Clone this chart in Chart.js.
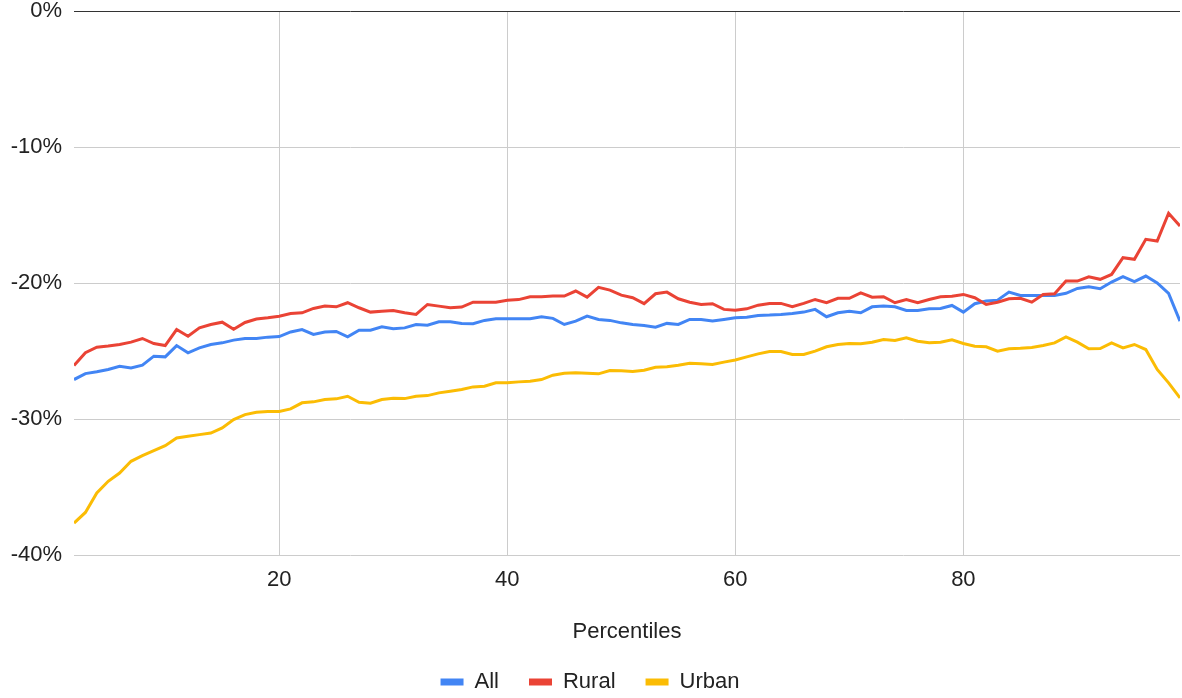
<!DOCTYPE html>
<html>
<head>
<meta charset="utf-8">
<script src="https://cdn.jsdelivr.net/npm/chart.js@4"></script>
<style>
  html, body { margin: 0; padding: 0; background: #fff; overflow: hidden; }
</style>
</head>
<body>
<canvas id="lineChart" width="1182" height="698"></canvas>
<script>
// percentiles 2..99
const percentiles = [];
for (let p = 2; p <= 99; p++) percentiles.push(p);

const xTicks = [20, 40, 60, 80];

const allValues = [
  -27.1, -26.66, -26.53, -26.36, -26.12, -26.24, -26.04, -25.38, -25.43, -24.6,
  -25.13, -24.77, -24.52, -24.4, -24.2, -24.08, -24.08, -23.98, -23.94, -23.6,
  -23.42, -23.78, -23.61, -23.56, -23.96, -23.47, -23.47, -23.22, -23.37, -23.3,
  -23.05, -23.1, -22.85, -22.85, -22.97, -23.0, -22.75, -22.63, -22.63, -22.63,
  -22.63, -22.48, -22.6, -23.05, -22.8, -22.43, -22.68, -22.75, -22.93, -23.05,
  -23.12, -23.25, -22.97, -23.05, -22.68, -22.68, -22.8, -22.68, -22.55, -22.51,
  -22.39, -22.36, -22.31, -22.24, -22.14, -21.94, -22.48, -22.19, -22.07, -22.19,
  -21.75, -21.7, -21.75, -22.02, -22.02, -21.9, -21.88, -21.65, -22.14, -21.52,
  -21.33, -21.26, -20.67, -20.91, -20.91, -20.91, -20.91, -20.76, -20.4, -20.27,
  -20.42, -19.93, -19.54, -19.9, -19.49, -20.0, -20.76, -22.8
];

const ruralValues = [
  -26.07, -25.13, -24.72, -24.64, -24.52, -24.35, -24.08, -24.45, -24.6, -23.42,
  -23.91, -23.3, -23.05, -22.88, -23.4, -22.9, -22.65, -22.56, -22.45, -22.25,
  -22.19, -21.87, -21.7, -21.75, -21.45, -21.82, -22.14, -22.07, -22.02, -22.19,
  -22.31, -21.58, -21.7, -21.82, -21.77, -21.41, -21.41, -21.41, -21.27, -21.22,
  -21.01, -21.01, -20.96, -20.96, -20.59, -21.04, -20.32, -20.52, -20.89, -21.08,
  -21.52, -20.79, -20.67, -21.16, -21.41, -21.58, -21.52, -21.94, -22.0, -21.9,
  -21.63, -21.5, -21.5, -21.75, -21.5, -21.21, -21.45, -21.13, -21.13, -20.72,
  -21.04, -21.01, -21.45, -21.21, -21.45, -21.21, -21.01, -20.98, -20.84, -21.08,
  -21.58, -21.41, -21.16, -21.13, -21.41, -20.84, -20.79, -19.86, -19.86, -19.54,
  -19.73, -19.37, -18.14, -18.26, -16.79, -16.91, -14.87, -15.81
];

const urbanValues = [
  -37.65, -36.87, -35.44, -34.58, -33.97, -33.11, -32.7, -32.33, -31.96, -31.39,
  -31.27, -31.15, -31.03, -30.66, -30.04, -29.68, -29.5, -29.45, -29.44, -29.26,
  -28.81, -28.74, -28.57, -28.52, -28.33, -28.77, -28.84, -28.57, -28.47, -28.5,
  -28.33, -28.28, -28.08, -27.96, -27.83, -27.64, -27.59, -27.34, -27.34, -27.27,
  -27.22, -27.1, -26.78, -26.63, -26.6, -26.63, -26.68, -26.44, -26.46, -26.51,
  -26.41, -26.19, -26.16, -26.05, -25.9, -25.94, -25.99, -25.82, -25.66, -25.43,
  -25.21, -25.04, -25.04, -25.26, -25.26, -25.01, -24.69, -24.52, -24.45, -24.47,
  -24.35, -24.15, -24.23, -24.03, -24.28, -24.4, -24.35, -24.18, -24.45, -24.65,
  -24.69, -25.01, -24.84, -24.8, -24.74, -24.6, -24.4, -23.96, -24.35, -24.84,
  -24.82, -24.4, -24.77, -24.52, -24.89, -26.36, -27.34, -28.45
];

const toPoints = (values) => values.map((v, i) => ({ x: percentiles[i], y: v }));

const FONT = "'Liberation Sans', Arial, Helvetica, sans-serif";
const TEXT = '#222222';

const ctx = document.getElementById('lineChart');
new Chart(ctx, {
  type: 'line',
  data: {
    datasets: [
      { label: 'All', data: toPoints(allValues), borderColor: '#4285F4', backgroundColor: '#4285F4', order: 3 },
      { label: 'Rural', data: toPoints(ruralValues), borderColor: '#EA4335', backgroundColor: '#EA4335', order: 2 },
      { label: 'Urban', data: toPoints(urbanValues), borderColor: '#FBBC04', backgroundColor: '#FBBC04', order: 1 },
    ],
  },
  options: {
    responsive: false,
    animation: false,
    datasets: { line: { borderWidth: 3, pointRadius: 0, tension: 0 } },
    layout: { padding: { top: 11, right: 2, bottom: -5, left: 0 } },
    plugins: {
      tooltip: { enabled: false },
      legend: {
        position: 'bottom',
        labels: {
          font: { family: FONT, size: 22 },
          color: TEXT,
          boxWidth: 23,
          boxHeight: 7,
          padding: 30,
          sort: (a, b) => a.datasetIndex - b.datasetIndex,
          generateLabels: (chart) => Chart.defaults.plugins.legend.labels.generateLabels(chart)
            .map(item => ({ ...item, lineWidth: 0 })),
        },
      },
    },
    scales: {
      x: {
        type: 'linear',
        min: 2,
        max: 99,
        afterBuildTicks: (axis) => { axis.ticks = xTicks.map(v => ({ value: v })); },
        afterFit: (axis) => { axis.height = 86; },
        border: { display: false },
        grid: { color: '#cccccc', drawTicks: false },
        ticks: { font: { family: FONT, size: 22 }, color: TEXT, padding: 12, maxRotation: 0 },
        title: {
          display: true,
          text: 'Percentiles',
          font: { family: FONT, size: 22 },
          color: TEXT,
          padding: { top: 0, bottom: -4 },
        },
      },
      y: {
        min: -40,
        max: 0,
        afterFit: (axis) => { axis.width = 74; axis.paddingTop = 0; axis.paddingBottom = 0; },
        border: { display: false },
        grid: {
          drawTicks: false,
          color: (c) => (c.tick && c.tick.value === 0 ? '#333333' : '#cccccc'),
        },
        ticks: {
          stepSize: 10,
          padding: 12,
          font: { family: FONT, size: 22, lineHeight: 1 },
          color: TEXT,
          callback: (v) => v + '%',
        },
      },
    },
  },
});
</script>
</body>
</html>
